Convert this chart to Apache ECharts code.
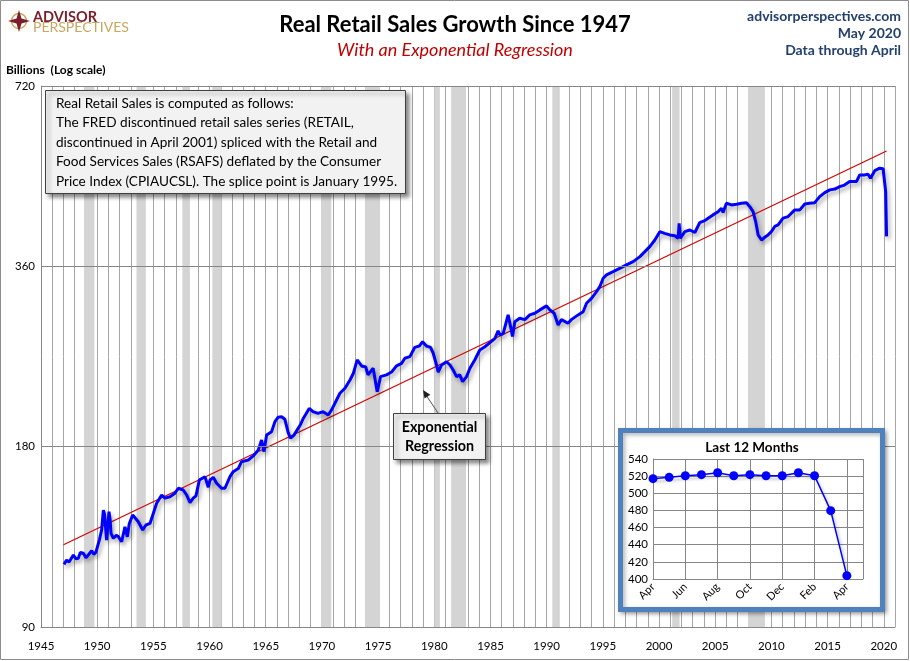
<!DOCTYPE html>
<html><head><meta charset="utf-8">
<script src="https://cdn.jsdelivr.net/npm/echarts@6/dist/echarts.min.js"></script>
<style>html,body{margin:0;padding:0;background:#fff}#c{width:910px;height:661px}</style>
</head><body><div id="c"></div>
<script>
// ---- Data ----
const saleYears = [
1947.05,1947.28,1947.5,1947.88,1948.1,1948.32,1948.5,1948.77,1949.0,1949.21,1949.51,1949.7,1949.89,
1950.19,1950.4,1950.55,1950.65,1950.84,1951.05,1951.15,1951.23,1951.44,1951.7,1951.88,1952.18,1952.47,1952.68,1952.86,
1953.16,1953.66,1954.05,1954.34,1954.7,1955.0,1955.29,1955.74,1956.03,1956.48,1956.92,1957.22,1957.66,1957.96,
1958.26,1958.55,1958.79,1959.09,1959.59,1959.89,1960.04,1960.33,1960.63,1961.07,1961.37,1961.82,1962.11,1962.56,
1962.85,1963.45,1963.89,1964.34,1964.63,1964.84,1965.08,1965.52,1965.82,1966.11,1966.4,1966.7,1967.0,1967.2,1967.5,
1967.8,1968.1,1968.34,1968.87,1969.2,1969.65,1970.1,1970.56,1970.86,1971.16,1971.6,1972.05,1972.5,1972.8,1973.14,
1973.53,1973.9,1974.1,1974.56,1974.92,1975.22,1975.75,1976.2,1976.64,1977.1,1977.38,1977.83,1978.27,1978.66,1978.96,
1979.3,1979.67,1979.9,1980.2,1980.35,1980.65,1981.1,1981.4,1981.68,1981.98,1982.27,1982.52,1982.87,1983.17,1983.6,
1984.05,1984.5,1984.95,1985.4,1985.68,1985.84,1986.13,1986.57,1986.66,1986.8,1986.96,1987.17,1987.6,1988.06,1988.5,
1988.95,1989.4,1989.99,1990.28,1990.67,1991.02,1991.32,1991.9,1992.2,1992.8,1993.25,1993.55,1993.99,1994.44,1994.73,
1995.03,1995.33,1995.92,1996.5,1997.1,1997.7,1998.3,1998.74,1999.18,1999.63,2000.07,2000.5,2000.96,2001.4,2001.7,
2001.79,2001.88,2002.3,2002.74,2003.19,2003.63,2004.07,2004.37,2004.8,2005.26,2005.56,2005.7,2006.0,2006.45,2006.9,
2007.34,2007.78,2008.08,2008.37,2008.6,2008.82,2009.12,2009.41,2009.7,2010.0,2010.3,2010.6,2011.04,2011.49,2012.08,
2012.53,2012.97,2013.4,2013.86,2014.3,2014.75,2015.2,2015.64,2016.08,2016.5,2016.97,2017.57,2017.86,2018.3,2018.6,
2018.82,2019.2,2019.64,2019.94,2020.08,2020.17,2020.25
];
const saleValues = [
114.5,116.4,115.5,118.7,117,117.2,119.8,119.5,117.5,118.7,120.7,119,120,
125.7,130.7,141,139,125.7,140.2,136,129,126.6,128,127.4,124.9,132.3,127.3,134,
138.4,134.9,130.7,133.2,134,139.4,144.8,149.5,147.7,148.5,150.5,153.4,152.4,149.5,
145.2,147.7,149,158.3,160.4,154,158.3,160,156.4,153.4,153.4,160.4,163.5,165.5,
169.9,171,173.7,177.7,184.7,176.6,188.3,190.7,198.2,201.6,202,200,190,186,188,
192,196,200.6,208.5,205.9,204.6,205.9,203.3,207.3,212.7,221,225.3,232.6,238.7,251.2,
245.5,244.5,237.2,243.3,222.4,235.6,237.2,239.8,245.5,248,252.9,254.4,263.7,265,269.5,
265,263.7,257.8,246.4,239.8,246.4,249.5,246.4,241.7,235.6,237.2,231.1,235.6,243.3,251.2,
261,264.3,268.5,273,281,276.6,278,298.7,296.7,285,275,291,294.9,293.3,298.7,
300.6,304.5,309.2,304.5,300.6,287.4,293.3,289.3,293.3,298.7,302.4,312.3,318.3,326.7,332.9,
343.9,348.3,352.8,357.3,362,366.6,373.7,380.9,388.3,398.3,411.3,408.7,406.2,404.9,401,
424.8,401,411.3,414,410,426,429.1,433.2,438.7,444.2,450,443,458.7,455.9,457,
458.7,459.8,452.8,444.2,427.6,406.2,398.3,402.6,406.2,411.3,419.6,422,433.2,435.9,447.2,
447.2,457.6,458.7,459.8,470.7,478,483,484.5,489,492,498.6,498.6,511.6,511.6,513,
505,520,525,524,520.5,479.7,403.9
];
const regYears = [1947.0, 2020.25];
const regValues = [123.5, 561];
const recessionStarts = [1948.83,1953.5,1957.58,1960.25,1969.92,1973.83,1980.0,1981.5,1990.5,2001.17,2007.92];
const recessionEnds   = [1949.75,1954.33,1958.25,1961.08,1970.83,1975.17,1980.5,1982.83,1991.17,2001.83,2009.42];
const yTicks = [90, 180, 360, 720];
const xLabelYears = [1945,1950,1955,1960,1965,1970,1975,1980,1985,1990,1995,2000,2005,2010,2015,2020];
const lastMonths = ['Apr','May','Jun','Jul','Aug','Sep','Oct','Nov','Dec','Jan','Feb','Mar','Apr'];
const lastValues = [517.1,518.6,520.5,521.7,524,520.5,521.7,520.5,520.5,524,520.5,479.7,403.9];

// ---- Chart ----
const FONT = 'Lato, "Open Sans", sans-serif';
const chart = echarts.init(document.getElementById('c'), null, {renderer:'canvas'});

function txt(text, x, y, font, fill, align, valign, z, extra) {
  return Object.assign({
    type:'text', z: z || 20, silent:true,
    style: { text, x, y, font, fill, align: align||'left', textAlign: align||'left',
             verticalAlign: valign||'middle', textVerticalAlign: valign||'middle' }
  }, extra || {});
}

const option = {
  animation:false,
  backgroundColor:'#fff',
  textStyle:{fontFamily:FONT},
  grid:[
    {left:41, right:15, top:86, bottom:34},
    {left:653, width:210, top:459, height:120}
  ],
  xAxis:[
    {type:'value', gridIndex:0, min:1945, max:2021, interval:1,
     axisLine:{show:true, lineStyle:{color:'#868686'}}, axisTick:{show:false},
     axisLabel:{color:'#000', fontSize:11.5, fontFamily:FONT, margin:13,
       formatter: v => xLabelYears.indexOf(v) >= 0 ? String(v) : ''},
     splitLine:{show:true, lineStyle:{color:'#a6a6a6', width:1}}},
    {type:'value', gridIndex:1, min:0, max:13, interval:2, z:10,
     axisLine:{show:true, lineStyle:{color:'#868686'}}, axisTick:{show:false},
     axisLabel:{color:'#000', fontSize:11, fontFamily:FONT, rotate:45, margin:6,
       formatter: v => (v % 2 === 0 && v <= 12) ? lastMonths[v] : ''},
     splitLine:{show:true, lineStyle:{color:'#868686', width:1}}}
  ],
  yAxis:[
    {type:'log', logBase:2, gridIndex:0, min:90, max:720,
     axisLine:{show:true, lineStyle:{color:'#868686'}}, axisTick:{show:false},
     axisLabel:{show:false}, splitLine:{show:false}},
    {type:'value', gridIndex:1, min:400, max:540, interval:20, z:10,
     axisLine:{show:true, lineStyle:{color:'#868686'}}, axisTick:{show:false},
     axisLabel:{color:'#000', fontSize:11.5, fontFamily:FONT, margin:5},
     splitLine:{show:true, lineStyle:{color:'#868686', width:1}}}
  ],
  series:[
    {type:'line', name:'Exponential Regression', xAxisIndex:0, yAxisIndex:0, z:3, silent:true,
     data: regYears.map((y,i)=>[y, regValues[i]]), symbol:'none',
     lineStyle:{color:'#d40000', width:1.2},
     markArea:{silent:true, itemStyle:{color:'#d4d4d4', opacity:1},
       data: recessionStarts.map((s,i)=>[{xAxis:s},{xAxis:recessionEnds[i]}])},
     markLine:{silent:true, symbol:'none', animation:false,
       lineStyle:{color:'#868686', width:1, type:'solid'},
       label:{show:true, position:'start', distance:6, color:'#000', fontSize:11.5, fontFamily:FONT,
              formatter: p => String(p.value)},
       data: yTicks.map(v=>({yAxis:v}))}
    },
    {type:'line', name:'Real Retail Sales', xAxisIndex:0, yAxisIndex:0, z:4, silent:true,
     data: saleYears.map((y,i)=>[y, saleValues[i]]), symbol:'none',
     lineStyle:{color:'#0000ff', width:3, shadowColor:'rgba(0,0,0,0.35)', shadowBlur:4, shadowOffsetX:2, shadowOffsetY:3}
    },
    {type:'line', name:'Last 12 Months', xAxisIndex:1, yAxisIndex:1, z:12, silent:true,
     data: lastValues.map((v,i)=>[i, v]), symbol:'circle', symbolSize:9, showSymbol:true,
     itemStyle:{color:'#0000ff'},
     lineStyle:{color:'#0000ff', width:1.5, shadowColor:'rgba(0,0,0,0.3)', shadowBlur:3, shadowOffsetX:2, shadowOffsetY:3}
    }
  ],
  graphic:[
    // outer frame
    {type:'rect', z:30, silent:true, shape:{x:0.5,y:0.5,width:908,height:659},
     style:{fill:'none', stroke:'#8c8c8c', lineWidth:1}},
    // logo
    {type:'circle', z:20, silent:true, shape:{cx:19, cy:21, r:7.5}, style:{fill:'none', stroke:'#c9a65d', lineWidth:1.5}},
    {type:'polygon', z:21, silent:true, shape:{points:[[19,10],[21.5,18.5],[30,21],[21.5,23.5],[19,32],[16.5,23.5],[8,21],[16.5,18.5]]},
     style:{fill:'#7b1d2a'}},
    txt('ADVISOR', 33, 17, 'bold 14.5px ' + FONT, '#7b1d2a', 'left', 'middle'),
    txt('PERSPECTIVES', 33, 27, '14px ' + FONT, '#c9a65d', 'left', 'middle'),
    // titles
    txt('Real Retail Sales Growth Since 1947', 455, 25, 'bold 22px ' + FONT, '#000', 'center', 'middle'),
    txt('With an Exponential Regression', 455, 50, 'italic 18px ' + FONT, '#c00000', 'center', 'middle'),
    txt('advisorperspectives.com', 901, 16, 'bold 14px ' + FONT, '#24406e', 'right', 'middle'),
    txt('May 2020', 901, 33, 'bold 14px ' + FONT, '#24406e', 'right', 'middle'),
    txt('Data through April', 901, 50, 'bold 14px ' + FONT, '#24406e', 'right', 'middle'),
    txt('Billions  (Log scale)', 6, 70, 'bold 12px ' + FONT, '#000', 'left', 'middle'),
    // annotation box
    {type:'rect', z:15, silent:true, shape:{x:45.5,y:90.5,width:360,height:103},
     style:{fill:'#f2f2f2', stroke:'#404040', lineWidth:1, shadowBlur:4, shadowOffsetX:3, shadowOffsetY:3, shadowColor:'rgba(0,0,0,0.45)'}},
    {type:'text', z:16, silent:true, style:{
      text:'Real Retail Sales is computed as follows:\nThe FRED discontinued retail sales series (RETAIL,\ndiscontinued in April 2001) spliced with the Retail and\nFood Services Sales (RSAFS) deflated by the Consumer\nPrice Index (CPIAUCSL). The splice point is January 1995.',
      x:56, y:94, font:'13.6px ' + FONT, lineHeight:19.4, fill:'#000',
      align:'left', textAlign:'left', verticalAlign:'top', textVerticalAlign:'top'}},
    // regression label
    {type:'rect', z:15, silent:true, shape:{x:393.5,y:413.5,width:92,height:46},
     style:{fill:'#f2f2f2', stroke:'#404040', lineWidth:1, shadowBlur:4, shadowOffsetX:3, shadowOffsetY:3, shadowColor:'rgba(0,0,0,0.45)'}},
    {type:'text', z:16, silent:true, style:{
      text:'Exponential\nRegression', x:439.5, y:436.5, font:'bold 14.3px ' + FONT, lineHeight:19, fill:'#000',
      align:'center', textAlign:'center', verticalAlign:'middle', textVerticalAlign:'middle'}},
    {type:'line', z:16, silent:true, shape:{x1:438, y1:413, x2:426, y2:395},
     style:{stroke:'#505050', lineWidth:1}},
    {type:'polygon', z:16, silent:true, shape:{points:[[423,390],[430.3,394.8],[424.5,398.6]]},
     style:{fill:'#202020'}},
    // inset frame
    {type:'rect', z:8, silent:true, shape:{x:620.5,y:430.5,width:262,height:179},
     style:{fill:'#fff', stroke:'#4f81bd', lineWidth:5, shadowBlur:4, shadowOffsetX:2, shadowOffsetY:2, shadowColor:'rgba(0,0,0,0.3)'}},
    txt('Last 12 Months', 752, 448, 'bold 13.5px ' + FONT, '#000', 'center', 'middle', 20)
  ]
};
chart.setOption(option);
</script>
</body></html>
